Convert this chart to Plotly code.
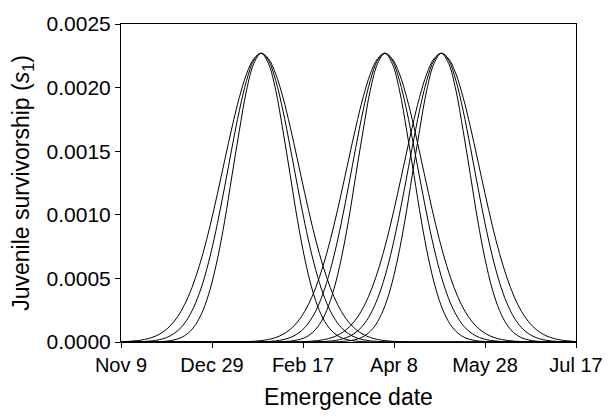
import plotly.graph_objects as go

# Days since Nov 9 (x axis runs Nov 9 .. Jul 17 = 250 days)
tick_days = [0, 50, 100, 150, 200, 250]
tick_labels = ["Nov 9", "Dec 29", "Feb 17", "Apr 8", "May 28", "Jul 17"]

y_ticks = [0.0, 0.0005, 0.0010, 0.0015, 0.0020, 0.0025]

# Peak day of each group of curves (days after Nov 9)
group_centers = [77, 145, 176]

# Half-profile of the curves: days away from the peak, and survivorship (x1e-3)
offset_days = [0, 4, 8, 12, 16, 20, 24, 28, 32, 36, 40, 44, 48, 52, 56, 60,
               64, 68, 72, 76, 80, 84, 88]
narrow_vals = [2.27, 2.19, 1.98, 1.66, 1.31, 0.955, 0.653, 0.416, 0.247, 0.137,
               0.071, 0.034, 0.016, 0.0065, 0.0026, 0.0009, 0.0003, 0.0001,
               0, 0, 0, 0, 0]
middle_vals = [2.27, 2.215, 2.056, 1.818, 1.529, 1.224, 0.933, 0.677, 0.467,
               0.307, 0.192, 0.114, 0.065, 0.035, 0.018, 0.0088, 0.0041,
               0.0018, 0.0008, 0.0003, 0.0001, 0, 0]
wide_vals = [2.27, 2.228, 2.108, 1.922, 1.689, 1.430, 1.167, 0.917, 0.695,
             0.508, 0.357, 0.242, 0.158, 0.0997, 0.0606, 0.0354, 0.0200,
             0.0108, 0.0057, 0.0029, 0.0014, 0.00065, 0.0003]

profiles = [narrow_vals, middle_vals, wide_vals]

fig = go.Figure()
for c in group_centers:
    for prof in profiles:
        xs = [0] + [c - d for d in reversed(offset_days[1:])] + [c + d for d in offset_days] + [250]
        ys = [0] + [v * 1e-3 for v in reversed(prof[1:])] + [v * 1e-3 for v in prof] + [0]
        pts = sorted(zip(xs, ys), key=lambda p: p[0])
        fig.add_trace(go.Scatter(
            x=[p[0] for p in pts], y=[p[1] for p in pts],
            mode="lines", line=dict(color="black", width=1, shape="spline", smoothing=1),
            showlegend=False, hoverinfo="skip"))

font_family = "Liberation Sans, Arial, sans-serif"
fig.update_layout(
    width=615, height=417,
    margin=dict(l=121, r=29, t=24, b=69),
    paper_bgcolor="white", plot_bgcolor="white",
    font=dict(family=font_family, color="black", size=20),
)
fig.update_xaxes(
    range=[0, 250], tickmode="array", tickvals=tick_days, ticktext=tick_labels,
    ticks="outside", ticklen=5, tickcolor="black", tickwidth=1,
    showline=True, linecolor="black", linewidth=1, mirror=True,
    showgrid=False, zeroline=False,
    tickfont=dict(size=20),
    title=dict(text="Emergence date", font=dict(size=23), standoff=13),
)
fig.update_yaxes(
    range=[0, 0.0025], tickmode="array", tickvals=y_ticks,
    ticktext=[f"{v:.4f}" for v in y_ticks],
    ticks="outside", ticklen=5, tickcolor="black", tickwidth=1,
    showline=True, linecolor="black", linewidth=1, mirror=True,
    showgrid=False, zeroline=False,
    tickfont=dict(size=21),
    title=dict(text="Juvenile survivorship (<i>s</i><sub>1</sub>)", font=dict(size=23), standoff=10),
)

fig.write_html("out.html",
               config={"displayModeBar": False, "staticPlot": True},
               post_script="document.body.style.margin='0';document.body.style.overflow='hidden';")
